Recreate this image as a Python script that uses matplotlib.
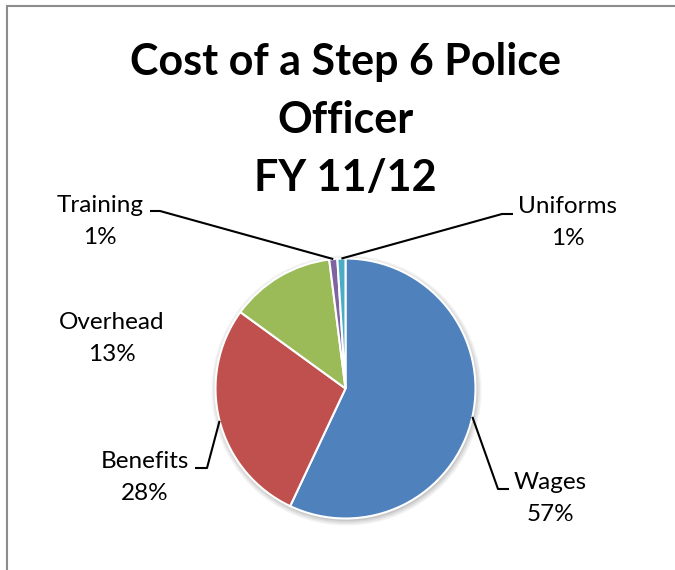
import numpy as np
import matplotlib.pyplot as plt
from matplotlib.patches import Circle, Rectangle

plt.rcParams["font.family"] = ["Lato", "DejaVu Sans"]

W, H = 675, 570

categories = ["Wages", "Benefits", "Overhead", "Training", "Uniforms"]
shares = [57, 28, 13, 1, 1]
colors = ["#4F81BD", "#C0504D", "#9BBB59", "#8064A2", "#4BACC6"]
title_lines = ["Cost of a Step 6 Police", "Officer", "FY 11/12"]

# label layout in pixels from the top-left: text centre x, baseline y,
# and the leader elbow / end points (None = no leader)
label_pos = {
    "Wages": (550, 489, (498, 489), (509, 489)),
    "Benefits": (145, 468, (207, 468), (195, 468)),
    "Overhead": (112, 329, None, None),
    "Training": (100, 212, (160, 211), (150, 211)),
    "Uniforms": (568, 213, (502, 214), (513, 214)),
}

cx, cy, r = 345.5, H - 388.5, 130

fig = plt.figure(figsize=(W / 100, H / 100), dpi=100)
ax = fig.add_axes([0, 0, 1, 1])

# soft shadow under the pie
for k, a in enumerate([0.05, 0.05, 0.06, 0.07]):
    ax.add_patch(Circle((cx + 1, cy - 2), r + 5 - k * 1.5, color="black",
                        alpha=a, lw=0, zorder=0))

wedges, _ = ax.pie(shares, colors=colors, startangle=90, counterclock=False,
                   center=(cx, cy), radius=r,
                   wedgeprops=dict(edgecolor="white", linewidth=1.5))
for w in wedges:
    w.set_zorder(2)

ax.set_xlim(0, W)
ax.set_ylim(0, H)
ax.set_aspect("equal")
ax.axis("off")

# chart frame (right and bottom edges run off the canvas)
ax.add_patch(Rectangle((7, -20), W + 20, H - 6 + 20, fill=False,
                       edgecolor="#8c8c8c", lw=1.5, zorder=5))

for i, line in enumerate(title_lines):
    ax.text(cx, H - (75 + 58 * i), line, ha="center", va="baseline",
            fontsize=31, fontweight="bold", color="black")

total = sum(shares)
for name, val, w in zip(categories, shares, wedges):
    tx, ty, elbow, end = label_pos[name]
    ax.text(tx, H - ty, name, ha="center", va="baseline", fontsize=17.5)
    ax.text(tx, H - ty - 32, f"{round(100 * val / total)}%", ha="center",
            va="baseline", fontsize=17.5)
    if elbow is None:
        continue
    mid = np.deg2rad((w.theta1 + w.theta2) / 2)
    ax_x = cx + r * np.cos(mid)
    ax_y = cy + r * np.sin(mid)
    ax.plot([ax_x, elbow[0], end[0]], [ax_y, H - elbow[1], H - end[1]],
            color="black", lw=1.5, zorder=3, solid_capstyle="butt")

plt.savefig("out.png", dpi=100)
